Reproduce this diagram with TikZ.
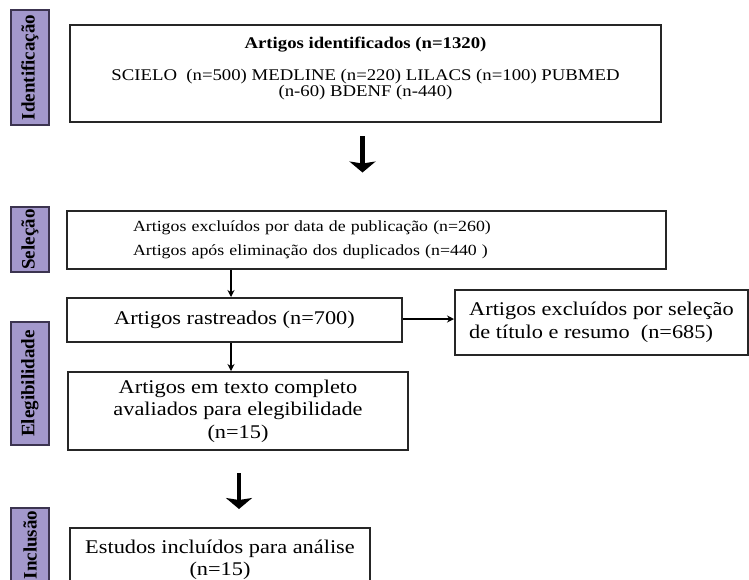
\documentclass[tikz,border=0pt]{standalone}
\usepackage{fontspec}
\setmainfont{Liberation Serif}[FakeStretch=1.15]
\newfontfamily\labelfont{Liberation Serif}
\usetikzlibrary{arrows.meta}
\definecolor{lav}{RGB}{163,152,204}
\definecolor{lavborder}{RGB}{60,52,80}
\tikzset{
  box/.style={draw=black!85, line width=2pt, rectangle, inner sep=0pt, text=black},
  lab/.style={draw=lavborder, fill=lav, line width=1.3pt, rotate=90, inner sep=0pt,
    minimum height=38pt, font=\labelfont\bfseries\fontsize{19}{22}\selectfont},
  arr/.style={draw=black, line width=1.6pt, -{Stealth[length=7pt,width=7pt]}},
  bigarr/.style={draw=black, line width=4.5pt, -{Stealth[length=11pt,width=26pt,inset=2pt]}},
  smalltxt/.style={font=\fontsize{16.3}{16}\selectfont},
  seltxt/.style={font=\fontsize{15.5}{24}\selectfont},
  largetxt/.style={font=\fontsize{19.4}{22.5}\selectfont},
}
\begin{document}
\begin{tikzpicture}[x=1pt,y=-1pt]
\useasboundingbox (0,0) rectangle (749,579);
\fill[white] (0,0) rectangle (749,579);
\clip (0,0) rectangle (749,579);

% stage labels
\node[lab, minimum width=115pt] (lid) at (30,67.5) {Identificação};
\node[lab, minimum width=65pt] (lsel) at (30,239.5) {Seleção};
\node[lab, minimum width=123pt] (lele) at (30,383.5) {Elegibilidade};
\node[lab, minimum width=74pt] (linc) at (30,545) {Inclusão};

% boxes
\node[box, smalltxt, minimum width=591pt, minimum height=97pt, align=center] (top) at (365.5,73.5)
  {{\bfseries Artigos identificados (n=1320)}\\[16pt]
   SCIELO\ \ (n=500) MEDLINE (n=220) LILACS (n=100) PUBMED\\
   (n-60) BDENF (n-440)\\[-2pt]\mbox{}};

\node[box, seltxt, minimum width=599pt, minimum height=58pt, align=left, text width=467pt, inner xsep=66pt] (sel) at (366.5,239.5)
  {Artigos excluídos por data de publicação (n=260)\\
   Artigos após eliminação dos duplicados (n=440 )};

\node[box, largetxt, minimum width=335pt, minimum height=44pt] (ras) at (234.5,320)
  {Artigos rastreados (n=700)};

\node[box, largetxt, minimum width=293pt, minimum height=65pt, align=left] (exc) at (601.5,322.5)
  {Artigos excluídos por seleção\\de título e resumo\ \ (n=685)};

\node[box, largetxt, minimum width=340pt, minimum height=78pt, align=center] (ele) at (238,411)
  {Artigos em texto completo\\avaliados para elegibilidade\\(n=15)};

\node[box, largetxt, minimum width=300pt, minimum height=64pt, align=center] (est) at (220,560)
  {Estudos incluídos para análise\\(n=15)};

% connectors
\draw[bigarr, shorten <=13pt, shorten >=37pt] ([xshift=-3pt]top.south) -- ([xshift=-3pt]top.south |- sel.north);
\draw[arr] ([xshift=-3.5pt]ras.north |- sel.south) -- ([xshift=-3.5pt]ras.north);
\draw[arr] ([xshift=-3.5pt]ras.south) -- ([xshift=-3.5pt]ras.south |- ele.north);
\draw[arr] ([yshift=1pt]ras.east) -- ([yshift=1pt]ras.east -| exc.west);
\draw[bigarr, shorten <=22pt, shorten >=18pt] ([xshift=1pt]ele.south) -- ([xshift=1pt]ele.south |- est.north);
\end{tikzpicture}
\end{document}
